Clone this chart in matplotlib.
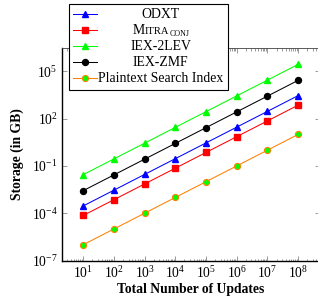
import matplotlib
matplotlib.use("Agg")
import matplotlib.pyplot as plt
from matplotlib.lines import Line2D
from matplotlib.patches import Rectangle
from matplotlib.ticker import FixedLocator, LogLocator, NullLocator

# ---------------- data ----------------
updates = [1e1, 1e2, 1e3, 1e4, 1e5, 1e6, 1e7, 1e8]
odxt = [2.9e-4, 2.9e-3, 2.9e-2, 2.9e-1, 2.9e0, 2.9e1, 2.9e2, 2.9e3]
mitra = [7.2e-5, 7.2e-4, 7.2e-3, 7.2e-2, 7.2e-1, 7.2e0, 7.2e1, 7.2e2]
iex2lev = [2.8e-2, 2.8e-1, 2.8e0, 2.8e1, 2.8e2, 2.8e3, 2.8e4, 2.8e5]
iexzmf = [2.7e-3, 2.7e-2, 2.7e-1, 2.7e0, 2.7e1, 2.7e2, 2.7e3, 2.7e4]
plaintext = [1.0e-6, 1.0e-5, 1.0e-4, 1.0e-3, 1.0e-2, 1.0e-1, 1.0e0, 1.0e1]
series_names = ["ODXT", "MITRA_CONJ", "IEX-2LEV", "IEX-ZMF", "Plaintext Search Index"]
y_ticks = [1e-7, 1e-4, 1e-1, 1e2, 1e5]

W, H = 318, 303
plt.rcParams['font.family'] = ['Liberation Serif', 'DejaVu Serif']
plt.rcParams['mathtext.fontset'] = 'stix'

fig = plt.figure(figsize=(W / 100, H / 100), dpi=100)
ax_l, ax_r, ax_t, ax_b = 61.7, 319.5, 48.3, 260.5
ax = fig.add_axes([ax_l / W, 1 - ax_b / H, (ax_r - ax_l) / W, (ax_b - ax_t) / H])

styles = [
    dict(color='#0000ff', marker='^', mfc='#0000ff', mec='#0000ff', ms=4.3),
    dict(color='#ff0000', marker='s', mfc='#ff0000', mec='#ff0000', ms=4.0),
    dict(color='#00ff00', marker='^', mfc='#00ff00', mec='#00ff00', ms=4.3),
    dict(color='#000000', marker='o', mfc='#000000', mec='#000000', ms=4.3),
    dict(color='#ff8000', marker='o', mfc='#00ff00', mec='#ff8000', ms=4.4, mew=0.8),
]
all_series = [odxt, mitra, iex2lev, iexzmf, plaintext]
for vals, st in zip(all_series, styles):
    ax.plot(updates, vals, lw=0.75, clip_on=False, zorder=3, **st)

ax.set_xscale('log')
ax.set_yscale('log')
ax.set_xlim(10 ** 0.3, 10 ** 8.7)
ax.set_ylim(1e-7, 10 ** 6.47)

ax.xaxis.set_major_locator(FixedLocator(updates))
ax.xaxis.set_minor_locator(LogLocator(base=10, subs=range(2, 10), numticks=30))
ax.yaxis.set_major_locator(FixedLocator(y_ticks))
ax.yaxis.set_minor_locator(NullLocator())

ax.tick_params(which='both', direction='in', top=True, right=True, color='0.45', width=0.5)
ax.tick_params(which='major', length=3.5, labelsize=9.8, pad=3)
ax.tick_params(which='minor', length=1.8)

for s in ['left', 'bottom']:
    ax.spines[s].set_linewidth(1.0)
    ax.spines[s].set_color('black')
ax.spines['top'].set_linewidth(0.6)
ax.spines['top'].set_color('0.25')
ax.spines['right'].set_linewidth(0.6)

ax.set_xlabel('Total Number of Updates', fontsize=9.8, fontweight='bold', labelpad=2)
ax.set_ylabel('Storage (in GB)', fontsize=9.8, fontweight='bold', labelpad=6)

# ---------------- legend (pgfplots style, centered text) ----------------
def fx(x):
    return x / W

def fy(y):
    return 1 - y / H

box = Rectangle((fx(69.3), fy(90)), fx(228.3) - fx(69.3), fy(4) - fy(90),
                transform=fig.transFigure, facecolor='white', edgecolor='black',
                lw=0.8, zorder=10)
fig.add_artist(box)

row_y = [14, 30, 46, 62, 78]
text_cx = 160.8
for name, st, ry in zip(series_names, styles, row_y):
    fig.add_artist(Line2D([fx(73.3), fx(96.7)], [fy(ry), fy(ry)], transform=fig.transFigure,
                          color=st['color'], lw=0.75, zorder=11))
    fig.add_artist(Line2D([fx(85)], [fy(ry)], transform=fig.transFigure, ls='none',
                          marker=st['marker'], mfc=st['mfc'], mec=st['mec'], ms=st['ms'],
                          mew=st.get('mew', 1.0), zorder=12))
    if name != "MITRA_CONJ":
        fig.text(fx(text_cx), fy(ry + 4.2), name, fontsize=9.9, ha='center', va='baseline', zorder=12)

# small caps Mitra_Conj
renderer = fig.canvas.get_renderer()
ry = row_y[1]
pieces = [("M", 9.9, 0.0), ("ITRA", 7.6, 0.0), ("CONJ", 5.7, 2.0)]
txts = []
widths = []
for s, size, dy in pieces:
    t = fig.text(0, 0, s, fontsize=size, ha='left', va='baseline', zorder=12)
    widths.append(t.get_window_extent(renderer).width)
    txts.append(t)
total = sum(widths) + 0.5
x = text_cx - total / 2
for t, w, (s, size, dy) in zip(txts, widths, pieces):
    t.set_position((fx(x), fy(ry + 4.2 + dy)))
    x += w + 0.25

fig.savefig('out.png', dpi=100)
